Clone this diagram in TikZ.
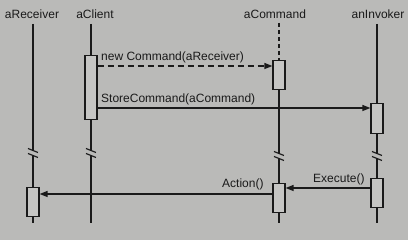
\documentclass[tikz,border=0pt]{standalone}
\usepackage{fontspec}
\setmainfont{Liberation Sans}
\usetikzlibrary{arrows.meta}
\definecolor{paper}{RGB}{186,186,184}
\definecolor{ink}{RGB}{26,26,26}
\definecolor{barfill}{RGB}{198,198,196}
\begin{document}
\begin{tikzpicture}[x=1pt,y=-1pt,
  every node/.style={text=ink, font=\fontsize{12}{14}\selectfont},
  head/.style={anchor=base, inner sep=0pt},
  life/.style={draw=ink, line width=1.4pt},
  bar/.style={draw=ink, fill=barfill, line width=1.2pt, minimum width=12pt,
              inner sep=0pt, anchor=north},
  msg/.style={draw=ink, line width=1.3pt, -{Triangle[length=8pt,width=6pt]}},
  lbl/.style={anchor=base west, inner sep=0pt},
  brk/.style={draw=ink, line width=1.2pt}]

% canvas
\fill[paper] (0,0) rectangle (408,240);
\useasboundingbox (0,0) rectangle (408,240);

% object headings
\node[head] (hR) at (32,19)  {aReceiver};
\node[head] (hC) at (95,19)  {aClient};
\node[head] (hM) at (275,19) {aCommand};
\node[head] (hI) at (378,19) {anInvoker};

% lifeline ends and break points
\coordinate (R0) at (33,24);  \coordinate (R1) at (33,223);  \coordinate (Rb) at (33,153);
\coordinate (C0) at (91,24);  \coordinate (C1) at (91,223);  \coordinate (Cb) at (91,153);
\coordinate (M0) at (279,23); \coordinate (M1) at (279,223); \coordinate (Mb) at (279,156);
\coordinate (I0) at (377,24); \coordinate (I1) at (377,223); \coordinate (Ib) at (377,156);

% lifelines, interrupted at the breaks
\foreach \o in {R,C,I}{
  \draw[life] (\o0) -- ([yshift=2.5pt]\o b);
  \draw[life] ([yshift=-2.5pt]\o b) -- (\o1);
  \draw[brk] ([xshift=-5pt,yshift=-0.5pt]\o b) -- ([xshift=5pt,yshift=-4.5pt]\o b);
  \draw[brk] ([xshift=-5pt,yshift=4.5pt]\o b) -- ([xshift=5pt,yshift=0.5pt]\o b);
}
\draw[life, dash pattern=on 4pt off 3pt] (M0) -- (279,60);
\draw[life] (279,89) -- ([yshift=2.5pt]Mb);
\draw[life] ([yshift=-2.5pt]Mb) -- (M1);
\draw[brk] ([xshift=-5pt,yshift=-0.5pt]Mb) -- ([xshift=5pt,yshift=-4.5pt]Mb);
\draw[brk] ([xshift=-5pt,yshift=4.5pt]Mb) -- ([xshift=5pt,yshift=0.5pt]Mb);

% activation bars
\node[bar, minimum height=64pt] (cb)  at (91,55)  {};
\node[bar, minimum height=29pt] (mb1) at (279,60) {};
\node[bar, minimum height=30pt] (ib1) at (377,103) {};
\node[bar, minimum height=29pt] (rb)  at (33,187) {};
\node[bar, minimum height=29pt] (mb2) at (279,183) {};
\node[bar, minimum height=29pt] (ib2) at (377,178) {};

% message levels
\coordinate (y1) at (0,66);
\coordinate (y2) at (0,108);
\coordinate (y3) at (0,188);
\coordinate (y4) at (0,194);

% messages
\draw[msg, dash pattern=on 6pt off 4pt] (cb.east |- y1) -- (mb1.west |- y1);
\draw[msg] (cb.east |- y2) -- (ib1.west |- y2);
\draw[msg] (ib2.west |- y3) -- (mb2.east |- y3);
\draw[msg] (mb2.west |- y4) -- (rb.east |- y4);

% message labels
\node[lbl] (l1) at (101,61)  {new Command(aReceiver)};
\node[lbl] (l2) at (101,103) {StoreCommand(aCommand)};
\node[lbl] (l3) at (313,183) {Execute()};
\node[lbl] (l4) at (222,188) {Action()};
\end{tikzpicture}
\end{document}
